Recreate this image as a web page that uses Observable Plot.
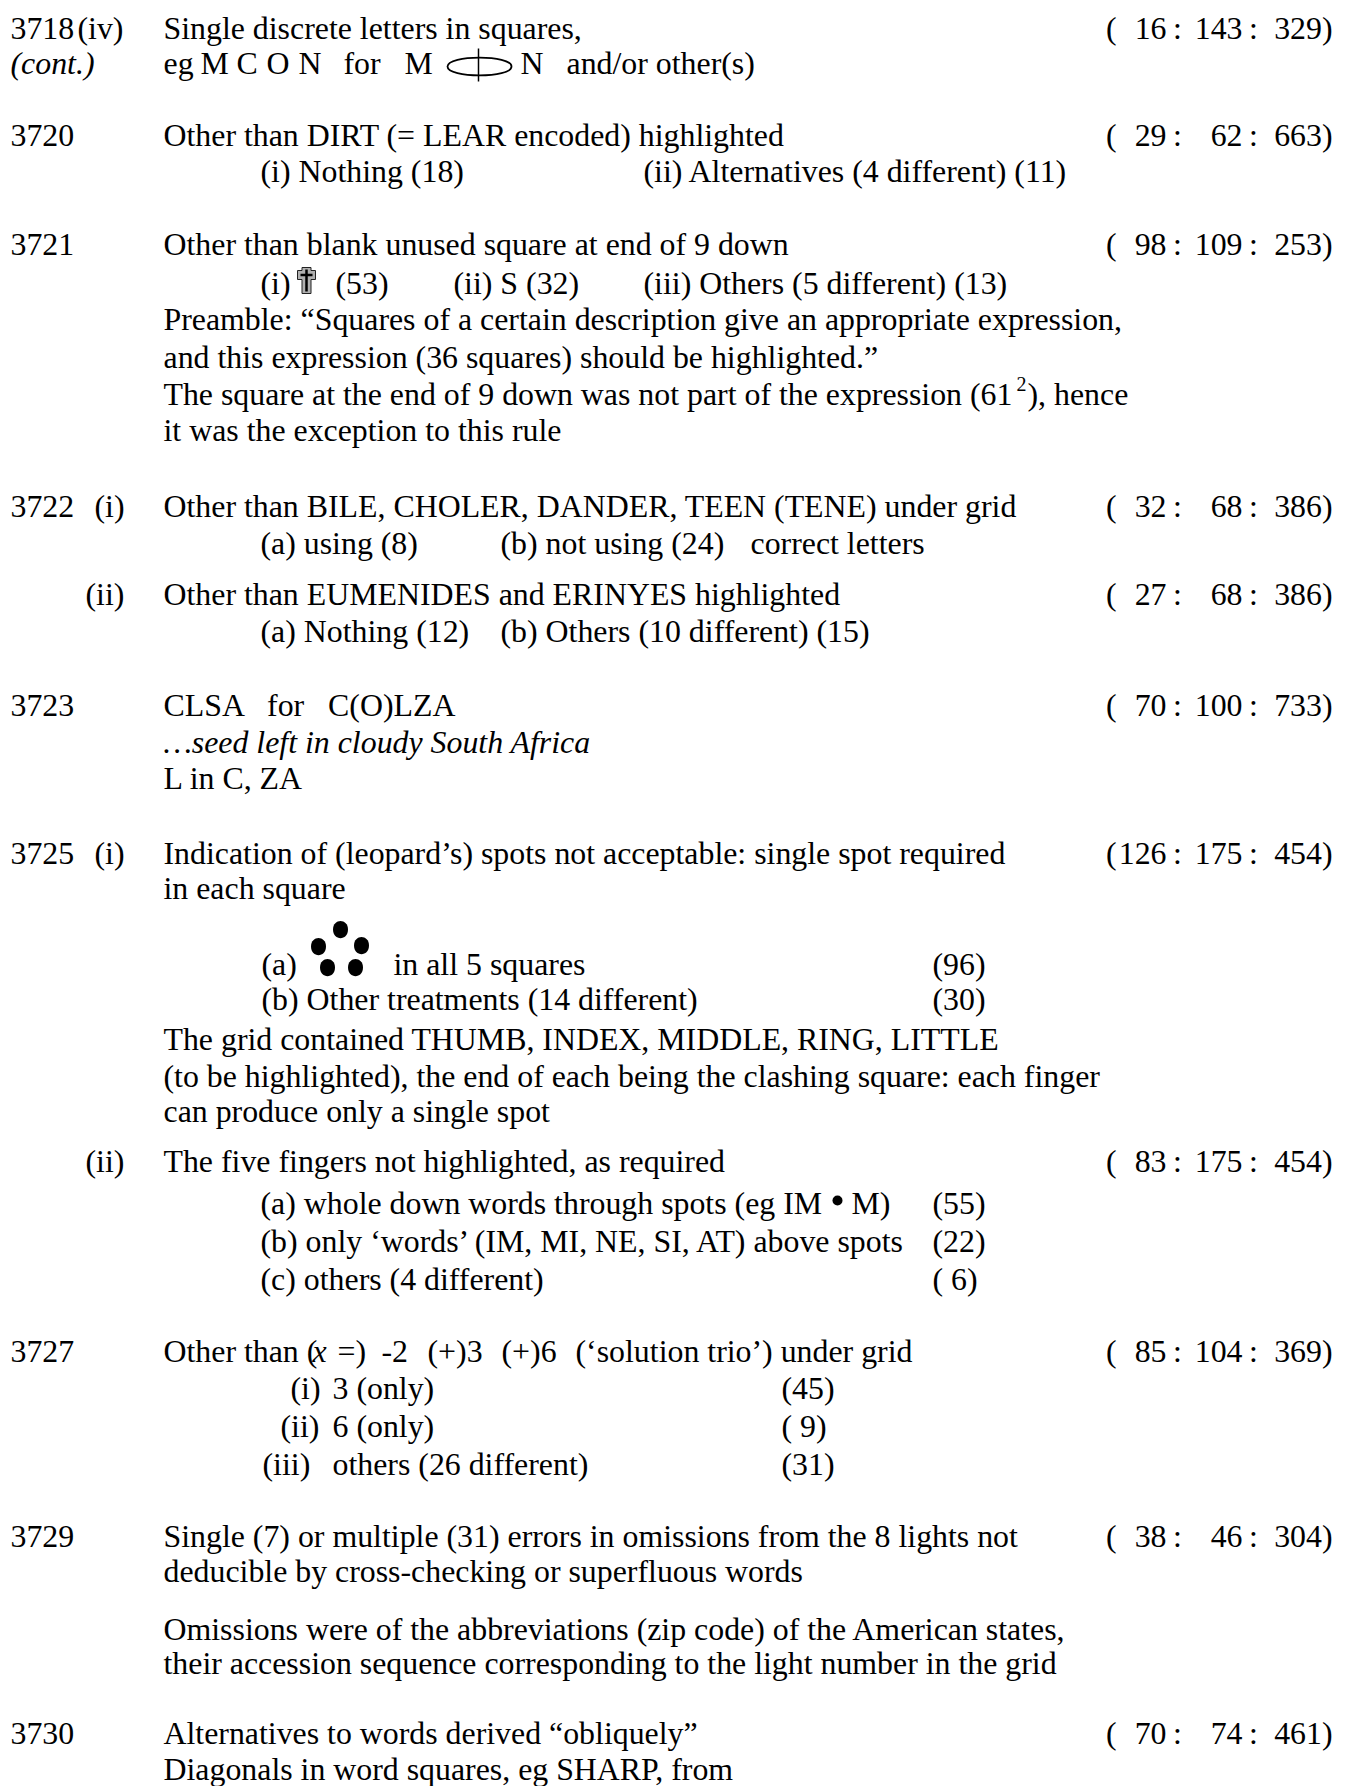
<!DOCTYPE html>
<html><head><meta charset="utf-8">
<script src="https://cdn.jsdelivr.net/npm/d3@7"></script>
<script src="https://cdn.jsdelivr.net/npm/@observablehq/plot@0.6"></script>
<style>html,body{margin:0;padding:0;background:#fff}svg{display:block}</style>
</head><body><div id="c"></div>
<script>
// [tab, baseline, text]
const e3718=[[10,37,"3718"],[77,37,"(iv)"],[163,37,"Single discrete letters in squares,"],[163,72,"eg"],[200,72,"M"],[236,72,"C"],[266,72,"O"],[298,72,"N"],[343,72,"for"],[404,72,"M"],[520,72,"N"],[566,72,"and/or other(s)"]];
const e3720=[[10,144,"3720"],[163,144,"Other than DIRT (= LEAR encoded) highlighted"],[260,180,"(i) Nothing (18)"],[643,180,"(ii) Alternatives (4 different) (11)"]];
const e3721=[[10,253,"3721"],[163,253,"Other than blank unused square at end of 9 down"],[260,292,"(i)"],[335,292,"(53)"],[453,292,"(ii) S (32)"],[643,292,"(iii) Others (5 different) (13)"],
 [163,328,"Preamble: “Squares of a certain description give an appropriate expression,"],[163,366,"and this expression (36 squares) should be highlighted.”"],[163,403,"The square at the end of 9 down was not part of the expression (61"],[1027,403,"), hence"],[163,439,"it was the exception to this rule"]];
const e3722=[[10,515,"3722"],[94,515,"(i)"],[163,515,"Other than BILE, CHOLER, DANDER, TEEN (TENE) under grid"],[260,552,"(a) using (8)"],[500,552,"(b) not using (24)"],[750,552,"correct letters"],
 [85,603,"(ii)"],[163,603,"Other than EUMENIDES and ERINYES highlighted"],[260,640,"(a) Nothing (12)"],[500,640,"(b) Others (10 different) (15)"]];
const e3723=[[10,714,"3723"],[163,714,"CLSA   for   C(O)LZA"],[163,787,"L in C, ZA"]];
const e3725=[[10,862,"3725"],[94,862,"(i)"],[163,862,"Indication of (leopard’s) spots not acceptable: single spot required"],[163,897,"in each square"],
 [261,973,"(a)"],[393,973,"in all 5 squares"],[261,1008,"(b) Other treatments (14 different)"],[932,973,"(96)"],[932,1008,"(30)"],
 [163,1048,"The grid contained THUMB, INDEX, MIDDLE, RING, LITTLE"],[163,1085,"(to be highlighted), the end of each being the clashing square: each finger"],[163,1120,"can produce only a single spot"],
 [85,1170,"(ii)"],[163,1170,"The five fingers not highlighted, as required"],[260,1212,"(a) whole down words through spots (eg IM"],[851,1212,"M)"],[932,1212,"(55)"],[260,1250,"(b) only ‘words’ (IM, MI, NE, SI, AT) above spots"],[932,1250,"(22)"],[260,1288,"(c) others (4 different)"],[932,1288,"( 6)"]];
const e3727=[[10,1360,"3727"],[163,1360,"Other than ("],[337,1360,"=)"],[381,1360,"-2"],[427,1360,"(+)3"],[501,1360,"(+)6"],[575,1360,"(‘solution trio’) under grid"],[290,1397,"(i)"],[332,1397,"3 (only)"],[781,1397,"(45)"],[280,1435,"(ii)"],[332,1435,"6 (only)"],[781,1435,"( 9)"],[262,1473,"(iii)"],[332,1473,"others (26 different)"],[781,1473,"(31)"]];
const e3729=[[10,1545,"3729"],[163,1545,"Single (7) or multiple (31) errors in omissions from the 8 lights not"],[163,1580,"deducible by cross-checking or superfluous words"],[163,1638,"Omissions were of the abbreviations (zip code) of the American states,"],[163,1672,"their accession sequence corresponding to the light number in the grid"]];
const e3730=[[10,1742,"3730"],[163,1742,"Alternatives to words derived “obliquely”"],[163,1778,"Diagonals in word squares, eg SHARP, from"]];
const romanLines=[...e3718,...e3720,...e3721,...e3722,...e3723,...e3725,...e3727,...e3729,...e3730];
const italicLines=[[10,72,"(cont.)"],[163,751,"…seed left in cloudy South Africa"],[312,1360,"x"]];
const smallLines=[[1016,389,"2"]];
const ratioBase=[37,144,253,515,603,714,862,1170,1360,1545,1742];
const ratioA=[16,29,98,32,27,70,126,83,85,38,70];
const ratioB=[143,62,109,68,68,100,175,175,104,46,74];
const ratioC=[329,663,253,386,386,733,454,454,369,304,461];
const spots=[[340,929],[318,946],[361,945],[327,967],[355,967]];
const ovalAt=[[479,66]];
const stemAt=[[478,64.5]];
const crossAt=[[306,280]];
const bulletAt=[[837,1200]];

const R=size=>Math.sqrt(size/Math.PI);
const oval=(ratio)=>({draw(c,size){const a=R(size),b=a*ratio,k=4/3;c.moveTo(-a,0);c.bezierCurveTo(-a,-b*k,a,-b*k,a,0);c.bezierCurveTo(a,b*k,-a,b*k,-a,0);c.closePath();}});
const stem={draw(c,size){const r=R(size);c.moveTo(0,-r);c.lineTo(0,r);}};
const daggerOuter={draw(c,size){const r=R(size),h=4.5,a=9;const t=-r+3,b=-r+12;c.moveTo(-h,-r);c.lineTo(h,-r);c.lineTo(h,t);c.lineTo(a,t);c.lineTo(a,b);c.lineTo(h,b);c.lineTo(h,r);c.lineTo(-h,r);c.lineTo(-h,b);c.lineTo(-a,b);c.lineTo(-a,t);c.lineTo(-h,t);c.closePath();}};
const daggerCore={draw(c,size){const r=R(size);c.moveTo(0,-r+2);c.lineTo(0,r-2);c.moveTo(-6,-r+7.5);c.lineTo(6,-r+7.5);}};

const FS=31.85;
const t=(data,o={})=>Plot.text(data,{x:d=>d[0],y:d=>d[1],text:d=>d[2],textAnchor:"start",lineAnchor:"bottom",fill:"#000",fontSize:FS,dy:1,...o});
const rt=(o)=>Plot.text(ratioBase,{y:d=>d,lineAnchor:"bottom",fontSize:FS,fill:"#000",dy:1,...o});
const plot=Plot.plot({width:1348,height:1786,margin:0,
 x:{domain:[0,1348],range:[0,1348],axis:null},
 y:{domain:[0,1786],range:[0,1786],axis:null},
 style:{fontFamily:"'Liberation Serif',serif",whiteSpace:"pre",background:"#fff"},
 marks:[
  t(romanLines),
  t(italicLines,{fontStyle:"italic"}),
  t(smallLines,{fontSize:20}),
  rt({x:1105.5,text:()=>"(",textAnchor:"start"}),
  rt({x:1166,text:(d,i)=>String(ratioA[i]),textAnchor:"end"}),
  rt({x:1172.5,text:()=>":",textAnchor:"start"}),
  rt({x:1242,text:(d,i)=>String(ratioB[i]),textAnchor:"end"}),
  rt({x:1248.5,text:()=>":",textAnchor:"start"}),
  rt({x:1332,text:(d,i)=>ratioC[i]+")",textAnchor:"end"}),
  Plot.dot(ovalAt,{x:d=>d[0],y:d=>d[1],r:32,symbol:oval(.28),fill:"none",stroke:"#000",strokeWidth:1.8}),
  Plot.dot(stemAt,{x:d=>d[0],y:d=>d[1],r:16.5,symbol:stem,fill:"none",stroke:"#000",strokeWidth:1.5}),
  Plot.dot(crossAt,{x:d=>d[0],y:d=>d[1],r:13,symbol:daggerOuter,fill:"#b0b0b0",stroke:"#222",strokeWidth:1}),
  Plot.dot(crossAt,{x:d=>d[0],y:d=>d[1],r:13,symbol:daggerCore,fill:"none",stroke:"#000",strokeWidth:2.5}),
  Plot.dot(spots,{x:d=>d[0],y:d=>d[1],r:7.5,symbol:oval(1.15),fill:"#000",stroke:"none"}),
  Plot.dot(bulletAt,{x:d=>d[0],y:d=>d[1],r:5,fill:"#000",stroke:"none"})
 ]});
document.getElementById("c").append(plot);
</script></body></html>
